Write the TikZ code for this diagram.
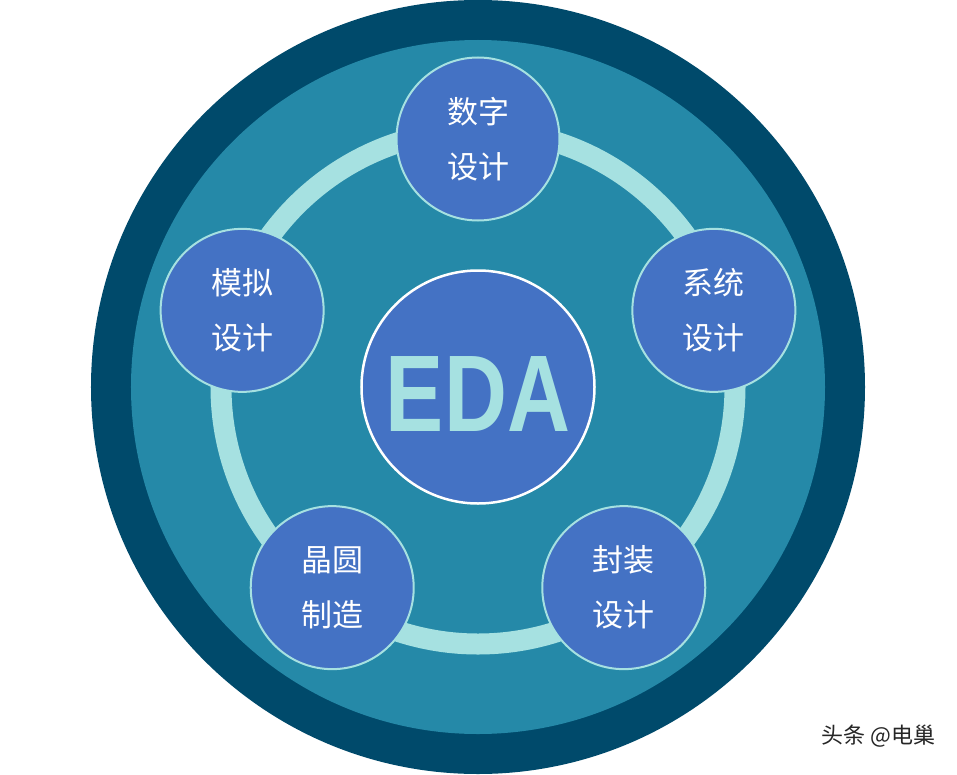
\documentclass[tikz,border=0pt]{standalone}
\usepackage{fontspec}
\setmainfont{Liberation Sans}
\newfontfamily\cjk{Noto Sans CJK SC}
\definecolor{outerblue}{HTML}{004A6B}
\definecolor{innerteal}{HTML}{2589A8}
\definecolor{ringcyan}{HTML}{A6E1E1}
\definecolor{nodeblue}{HTML}{4472C4}

\begin{document}
\begin{tikzpicture}[x=1pt,y=1pt,inner sep=0pt,outer sep=0pt,
topic/.style={draw=ringcyan,circle,fill=nodeblue,line width=2pt,minimum size=163pt,text=white,align=center,font=\cjk\fontsize{31}{55}\selectfont},
hub/.style={draw=white,circle,fill=nodeblue,line width=2.5pt,minimum size=233pt},
hubtext/.style={text=ringcyan,font=\bfseries\fontsize{109}{109}\selectfont}]

% page is 957 x 774, rings centred at (0,0)
\useasboundingbox (-478,-387) rectangle (479,387);

\fill[outerblue] (0,0) circle (387);
\fill[innerteal] (0,0) circle (347);
\draw[ringcyan,line width=21pt] (0,0) circle (257);

\draw (0,0) node[hub] (eda) {};
\draw (0,-7) node[hubtext] (edalabel) {\scalebox{0.8}[1]{EDA}};

\foreach \ang/\name/\txt in {90/digital/{数字\\设计},18/system/{系统\\设计},-54/package/{封装\\设计},-126/wafer/{晶圆\\制造},162/analog/{模拟\\设计}}
  \draw (\ang:248) node[topic] (\name) {\txt};

\draw (457,-349) node[anchor=east,text=black!85,font=\cjk\fontsize{22}{22}\selectfont] (mark) {头条 @电巢};
\end{tikzpicture}
\end{document}
